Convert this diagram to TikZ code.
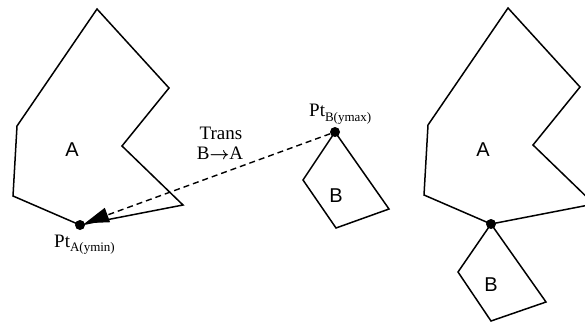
\documentclass[tikz,border=0pt]{standalone}
\usepackage{amsmath}
\usepackage{fontspec}
\setmainfont{Liberation Serif}
\newfontfamily\shapefont{Liberation Sans}
\usetikzlibrary{positioning,arrows.meta}
\tikzset{
  outline/.style={line width=1.5pt, line join=miter},
  pointdot/.style={circle, fill=black, inner sep=0pt, minimum size=10pt},
  shapelabel/.style={font=\shapefont\fontsize{20}{22}\selectfont, inner sep=0pt},
  ptlabel/.style={font=\fontsize{19}{21}\selectfont, inner sep=0pt, anchor=base west},
  translabel/.style={font=\fontsize{19}{19}\selectfont, inner sep=0pt, anchor=base},
  transarrow/.style={-{Triangle[length=24pt, width=15pt]}, line width=1.4pt, dash pattern=on 6pt off 4pt}
}
\newcommand{\ptsub}[2]{Pt\raisebox{-4.5pt}{\fontsize{13}{13}\selectfont #1(#2)}}

\begin{document}
\begin{tikzpicture}[x=1pt, y=-1pt]
  \clip (0,0) rectangle (585,326);
  % polygon A before the move
  \draw[outline] (97,9) -- (169,88) -- (122,146) -- (183,205) -- (80,225) -- (13,196) -- (17,126) -- cycle;
  \node[shapelabel] (la) at (72,150) {A};
  % polygon B before the move
  \draw[outline] (335,132) -- (303,180) -- (336,228) -- (389,209) -- cycle;
  \node[shapelabel] (lb) at (336,196) {B};
  \node[pointdot] (pta) at (80,225) {};
  \node[pointdot] (ptb) at (335,132) {};
  \node[ptlabel] (pta label) at (54,247) {\ptsub{A}{ymin}};
  \node[ptlabel] (ptb label) at (309,117) {\ptsub{B}{ymax}};
  \draw[transarrow] (ptb) -- (pta);
  \node[translabel] (trans) at (221,139) {Trans};
  \node[translabel] (trans dir) at (220,159) {B$\boldsymbol{\rightarrow}$A};
  % after the move
  \draw[outline] (508,8) -- (580,87) -- (533,145) -- (594,204) -- (491,224) -- (424,195) -- (428,125) -- cycle;
  \node[shapelabel] (la2) at (483,150) {A};
  \draw[outline] (491,224) -- (458,272) -- (491,321) -- (546,302) -- cycle;
  \node[shapelabel] (lb2) at (491,285) {B};
  \node[pointdot] (ptc) at (491,224) {};
\end{tikzpicture}
\end{document}
